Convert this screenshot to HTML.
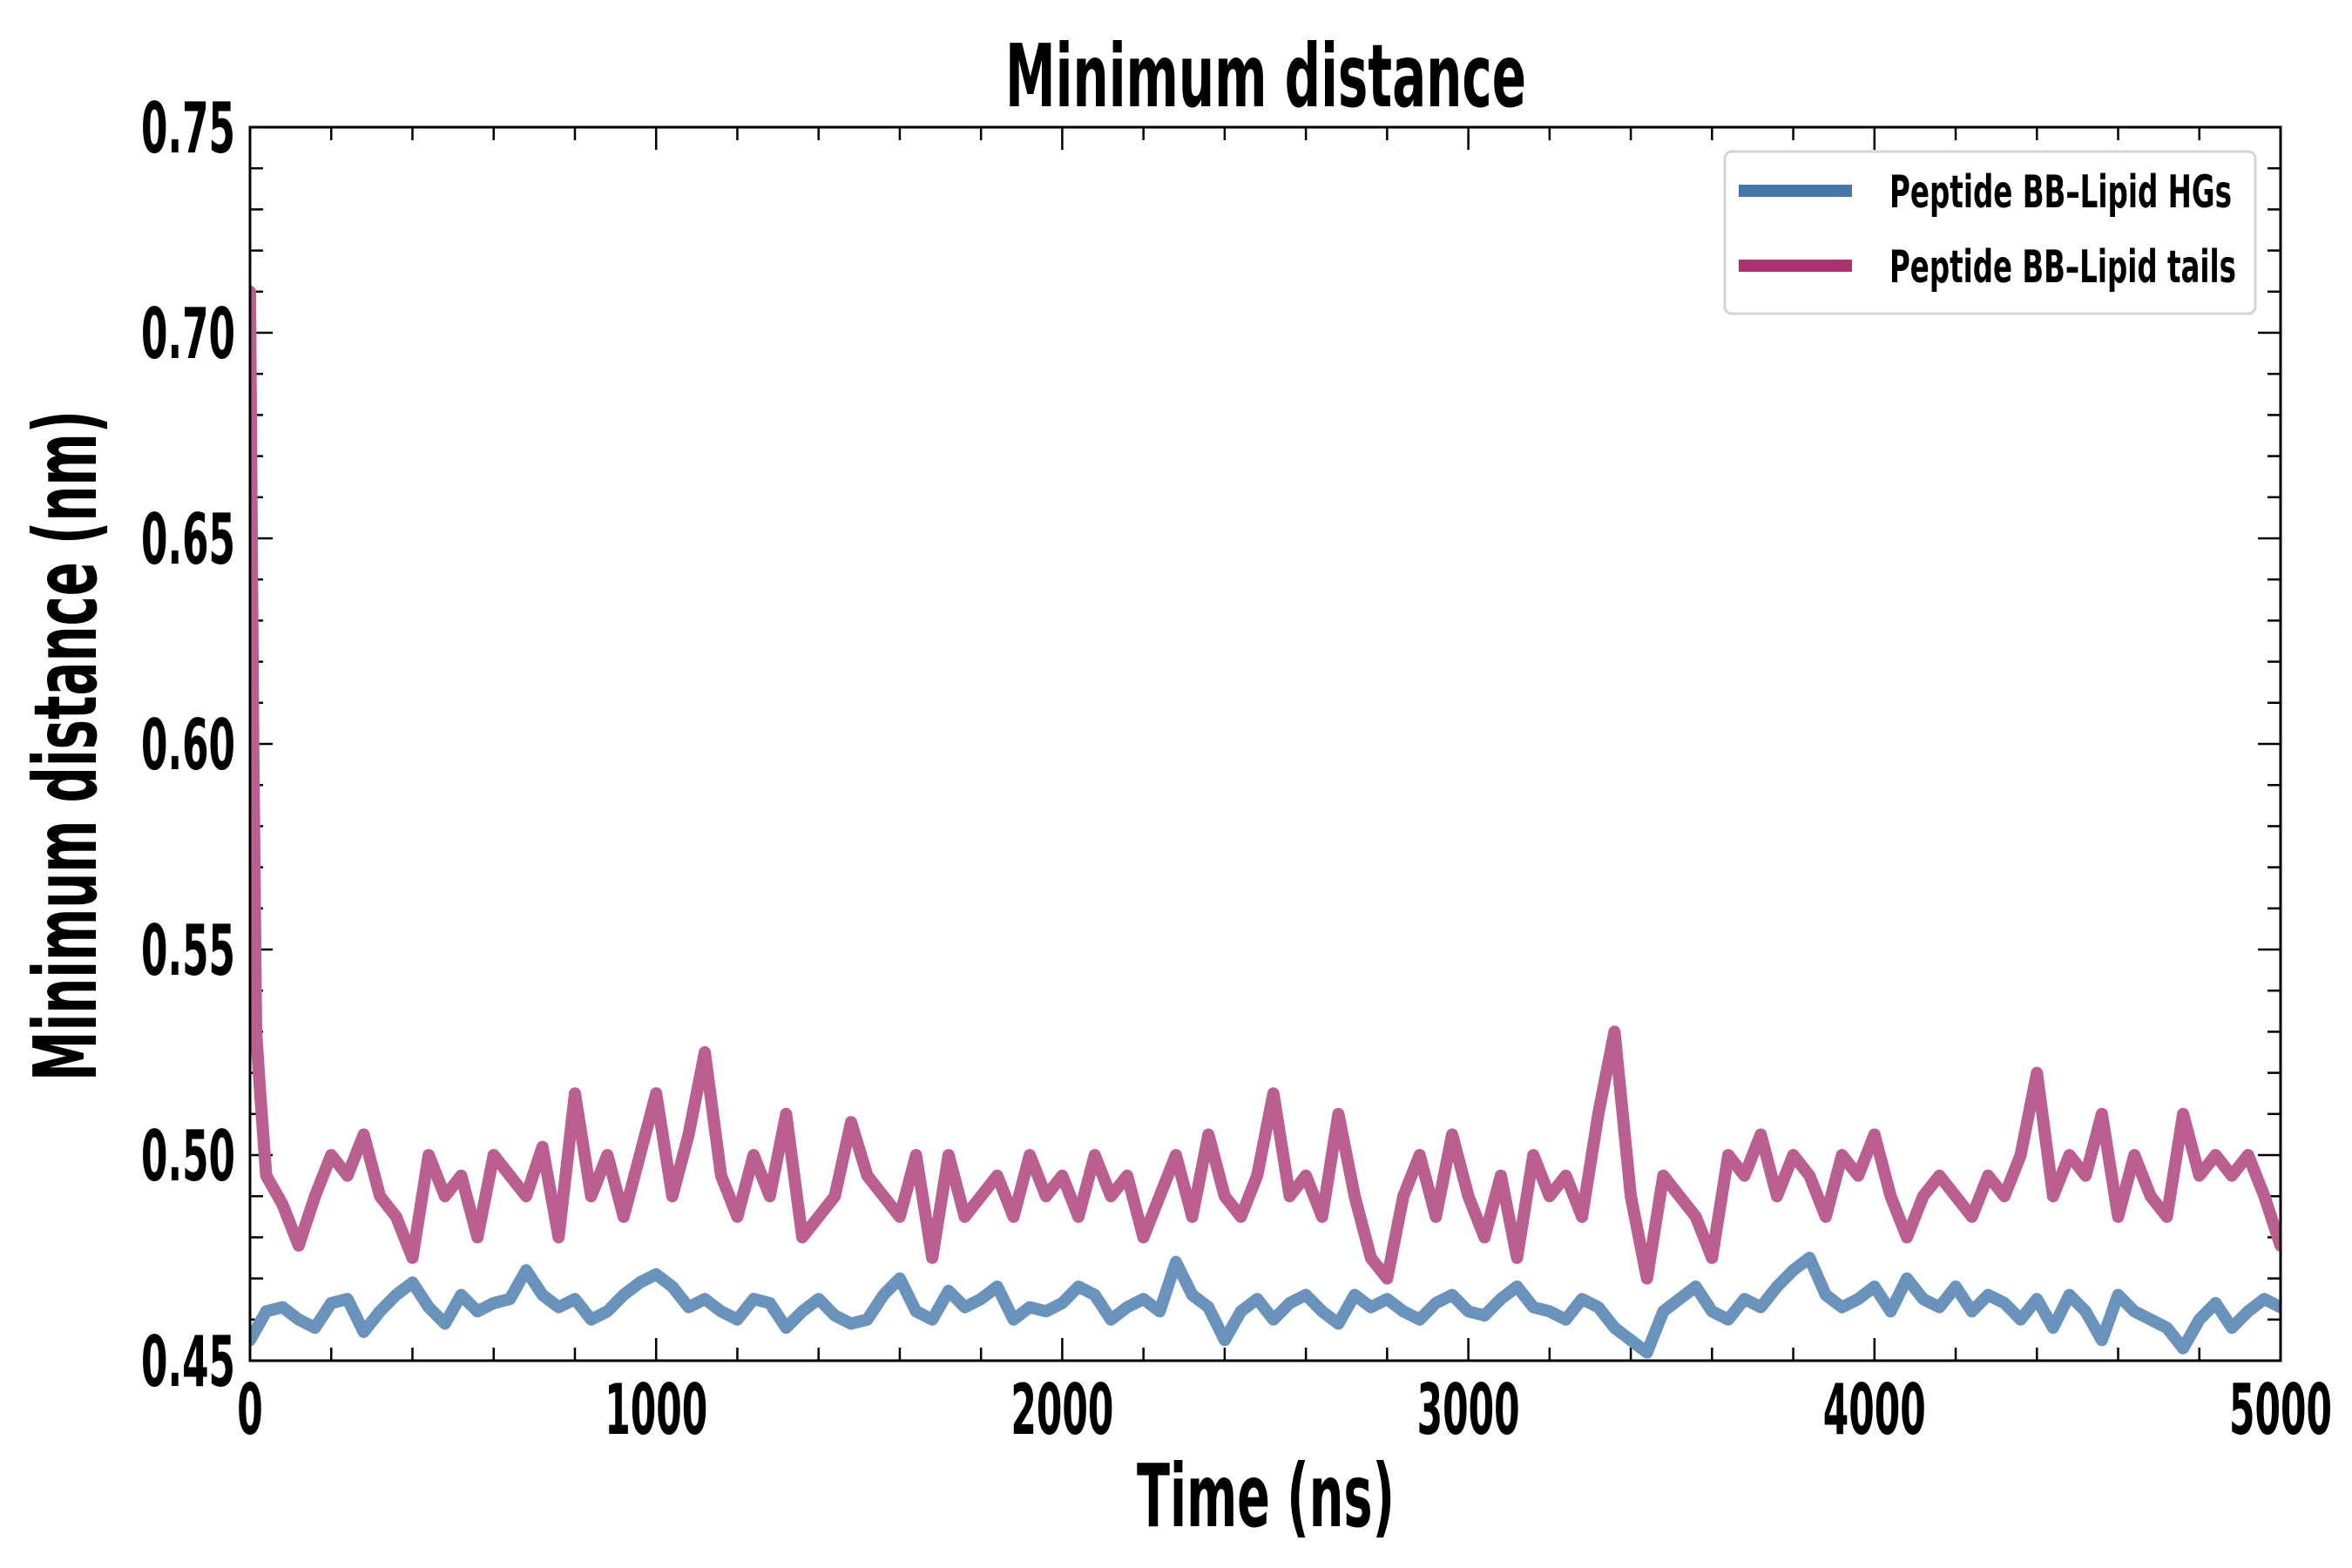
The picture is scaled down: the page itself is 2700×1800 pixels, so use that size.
<!DOCTYPE html>
<html><head><meta charset="utf-8"><style>
html,body{margin:0;padding:0;background:#fff;}
svg{display:block;}
text{font-family:"DejaVu Sans Condensed","DejaVu Sans","Liberation Sans",sans-serif;font-weight:bold;fill:#000;}
</style></head><body>
<svg id="chart" width="2700" height="1800" viewBox="0 0 2700 1800" xmlns="http://www.w3.org/2000/svg">
<rect x="0" y="0" width="2700" height="1800" fill="#fff"/>
<g id="ticks"></g>
<g id="lines"></g>
<rect x="287" y="146" width="2331" height="1416" fill="none" stroke="#000" stroke-width="3"/>
<g id="labels"></g>
<text x="1453" y="122" font-size="100" text-anchor="middle" textLength="598" lengthAdjust="spacingAndGlyphs">Minimum distance</text>
<text x="1453" y="1752" font-size="100" text-anchor="middle" textLength="296" lengthAdjust="spacingAndGlyphs">Time (ns)</text>
<text transform="translate(110,856) rotate(-90)" x="0" y="0" font-size="100" text-anchor="middle" textLength="770" lengthAdjust="spacingAndGlyphs">Minimum distance (nm)</text>
<g>
<rect x="1980" y="174" width="609" height="186" rx="8" fill="#fff" stroke="#d4d4d4" stroke-width="3"/>
<line x1="1996" y1="219" x2="2126" y2="219" stroke="#4677a8" stroke-width="14"/>
<text x="2169" y="238" font-size="52" textLength="393" lengthAdjust="spacingAndGlyphs">Peptide BB–Lipid HGs</text>
<line x1="1996" y1="305" x2="2126" y2="305" stroke="#a8336f" stroke-width="14"/>
<text x="2169" y="324" font-size="52" textLength="398" lengthAdjust="spacingAndGlyphs">Peptide BB–Lipid tails</text>
</g>
</svg>
<script>
const xTicks=[0,1000,2000,3000,4000,5000];
const xTickLabels=["0","1000","2000","3000","4000","5000"];
const yTicks=[0.45,0.50,0.55,0.60,0.65,0.70,0.75];
const yTickLabels=["0.45","0.50","0.55","0.60","0.65","0.70","0.75"];
const pinkHeadTimes=[0,8,15,25];
const pinkHeadValues=[0.71,0.60,0.53,0.515];
const pinkStart=40, pinkStep=40;
const pinkValues=[.495,.488,.478,.49,.50,.495,.505,.49,.485,.475,.50,.49,.495,.48,.50,.495,.49,.502,.48,.515,.49,.50,.485,.50,.515,.49,.505,.525,.495,.485,.50,.49,.51,.48,.485,.49,.508,.495,.49,.485,.50,.475,.50,.485,.49,.495,.485,.50,.49,.495,.485,.50,.49,.495,.48,.49,.50,.485,.505,.49,.485,.495,.515,.49,.495,.485,.51,.49,.475,.47,.49,.50,.485,.505,.49,.48,.495,.475,.50,.49,.495,.485,.51,.53,.49,.47,.495,.49,.485,.475,.50,.495,.505,.49,.50,.495,.485,.50,.495,.505,.49,.48,.49,.495,.49,.485,.495,.49,.50,.52,.49,.50,.495,.51,.485,.50,.49,.485,.51,.495,.50,.495,.50,.49,.478];
const blueValues=[.455,.462,.463,.46,.458,.464,.465,.457,.462,.466,.469,.463,.459,.466,.462,.464,.465,.472,.466,.463,.465,.46,.462,.466,.469,.471,.468,.463,.465,.462,.46,.465,.464,.458,.462,.465,.461,.459,.46,.466,.47,.462,.46,.467,.463,.465,.468,.46,.463,.462,.464,.468,.466,.46,.463,.465,.462,.474,.466,.463,.455,.462,.465,.46,.464,.466,.462,.459,.466,.463,.465,.462,.46,.464,.466,.462,.461,.465,.468,.463,.462,.46,.465,.463,.458,.455,.452,.462,.465,.468,.462,.46,.465,.463,.468,.472,.475,.466,.463,.465,.468,.462,.47,.465,.463,.468,.462,.466,.464,.46,.465,.458,.466,.462,.455,.466,.462,.46,.458,.453,.46,.464,.458,.462,.465,.463];
const X0=287,X1=2618,Y0=1562,Y1=146;
function xs(t){return X0+(t-0)/(5000-0)*(X1-X0);}
function ys(v){return Y0-(v-0.45)/(0.75-0.45)*(Y0-Y1);}
const NS="http://www.w3.org/2000/svg";
const tg=document.getElementById('ticks'),lg=document.getElementById('labels'),ln=document.getElementById('lines');
function mk(tag,attrs,parent){const e=document.createElementNS(NS,tag);for(const k in attrs)e.setAttribute(k,attrs[k]);parent.appendChild(e);return e;}
for(let t=0;t<=5000;t+=200){const x=xs(t);const major=t%1000===0;const L=major?26:15;
 let a=mk('line',{x1:x,y1:Y0,x2:x,y2:Y0-L,stroke:'#000','stroke-width':2.5},tg);
 
 let b=mk('line',{x1:x,y1:Y1,x2:x,y2:Y1+L,stroke:'#000','stroke-width':2.5},tg);
 }
for(let i=0;i<=30;i++){const v=0.45+i*0.01;const y=ys(v);const major=i%5===0;const L=major?26:15;
 let a=mk('line',{x1:X0,y1:y,x2:X0+L,y2:y,stroke:'#000','stroke-width':2.5},tg);
 
 let b=mk('line',{x1:X1,y1:y,x2:X1-L,y2:y,stroke:'#000','stroke-width':2.5},tg);
 }
xTicks.forEach((t,i)=>{const s=xTickLabels[i];
 const e=mk('text',{x:xs(t),y:1646,'font-size':80,'text-anchor':'middle',textLength:s.length*29.5,lengthAdjust:'spacingAndGlyphs'},lg);
 e.textContent=s;
 
 });
yTicks.forEach((v,i)=>{
 const e=mk('text',{x:270,y:ys(v)+29,'font-size':80,'text-anchor':'end',textLength:108,lengthAdjust:'spacingAndGlyphs'},lg);
 e.textContent=yTickLabels[i];
 
 });
const bStep=5000/(blueValues.length-1);
let bp=blueValues.map((v,i)=>xs(i*bStep).toFixed(1)+','+ys(v).toFixed(1)).join(' ');
const bl=mk('polyline',{points:bp,fill:'none',stroke:'#6a93bb','stroke-width':14,'stroke-linejoin':'round','stroke-linecap':'round'},ln);


let pts=pinkHeadTimes.map((t,i)=>xs(t).toFixed(1)+','+ys(pinkHeadValues[i]).toFixed(1));
pinkValues.forEach((v,i)=>pts.push(xs(pinkStart+i*pinkStep).toFixed(1)+','+ys(v).toFixed(1)));
const pl=mk('polyline',{points:pts.join(' '),fill:'none',stroke:'#bb5e90','stroke-width':14,'stroke-linejoin':'round','stroke-linecap':'round'},ln);


const cp=mk('clipPath',{id:'clip'},document.getElementById('chart'));
mk('rect',{x:X0,y:Y1,width:X1-X0,height:Y0-Y1},cp);
ln.setAttribute('clip-path','url(#clip)');
</script>
</body></html>
